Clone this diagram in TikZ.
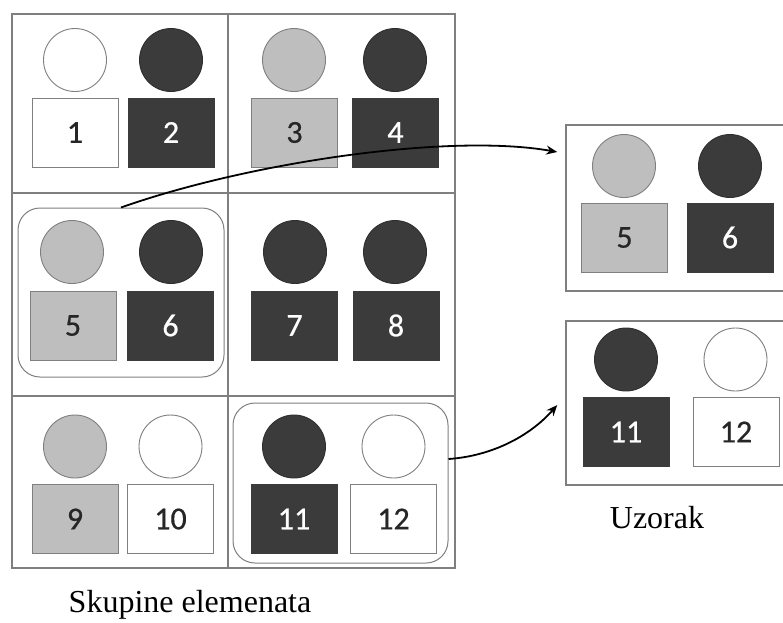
\documentclass[tikz,border=0pt]{standalone}
\usepackage{fontspec}
\setmainfont{Liberation Serif}
\newfontfamily\digitfont{Carlito}[FakeBold=0.6]
\usetikzlibrary{arrows.meta}
\definecolor{dk}{HTML}{3B3B3B}
\definecolor{lt}{HTML}{BEBEBE}
\definecolor{ln}{HTML}{7F7F7F}
\begin{document}
\begin{tikzpicture}[x=1pt,y=-1pt,
  gridline/.style={draw=ln,line width=1.5pt},
  dot/.style={circle,minimum size=63pt,inner sep=0pt,line width=0.9pt},
  wdot/.style={dot,draw=ln,fill=white},
  gdot/.style={dot,draw=ln,fill=lt},
  ddot/.style={dot,draw=dk!80!black,fill=dk},
  card/.style={rectangle,minimum width=86pt,minimum height=69pt,inner sep=0pt,line width=0.9pt,font=\digitfont\fontsize{32}{32}\selectfont},
  wcard/.style={card,draw=ln,fill=white,text=black!85},
  gcard/.style={card,draw=ln,fill=lt,text=black!85},
  dcard/.style={card,draw=dk,fill=dk,text=white},
  group/.style={rectangle,rounded corners=22pt,draw=ln,line width=1pt,inner sep=0pt},
  samplebox/.style={rectangle,draw=ln,line width=1.5pt,inner sep=0pt},
  caption/.style={font=\fontsize{32}{32}\selectfont,anchor=base},
  link/.style={black,line width=1.8pt,-{Stealth[length=11pt,width=9pt]}}]
\useasboundingbox (0,0) rectangle (783,622);
% grid
\draw[gridline] (12,14) rectangle (455,568);
\draw[gridline] (228,14) -- (228,568);
\draw[gridline] (12,193) -- (455,193);
\draw[gridline] (12,396) -- (455,396);
% row 1
\node[wdot] (c1) at (75,60) {};
\node[ddot] (c2) at (171,60) {};
\node[gdot] (c3) at (294,60) {};
\node[ddot] (c4) at (395,60) {};
\node[wcard] (s1) at (75,132.5) {1};
\node[dcard] (s2) at (171,132.5) {2};
\node[gcard] (s3) at (294.5,132.5) {3};
\node[dcard] (s4) at (395.5,132.5) {4};
% row 2
\node[group,minimum width=206pt,minimum height=169pt] (g1) at (121,292.5) {};
\node[gdot] (c5) at (72,252) {};
\node[ddot] (c6) at (171,252) {};
\node[ddot] (c7) at (295,252) {};
\node[ddot] (c8) at (395,252) {};
\node[gcard] (s5) at (73,325.5) {5};
\node[dcard] (s6) at (170.5,325.5) {6};
\node[dcard] (s7) at (294.5,325.5) {7};
\node[dcard] (s8) at (396,325.5) {8};
% row 3
\node[group,minimum width=215pt,minimum height=160pt] (g2) at (340.5,483) {};
\node[gdot] (c9) at (75,446.5) {};
\node[wdot] (c10) at (170.5,446.5) {};
\node[ddot] (c11) at (294,446.5) {};
\node[wdot] (c12) at (393.5,446.5) {};
\node[gcard] (s9) at (75,519) {9};
\node[wcard] (s10) at (170.5,519) {10};
\node[dcard] (s11) at (294,519) {11};
\node[wcard] (s12) at (393.5,519) {12};
% sample boxes
\node[samplebox,minimum width=240pt,minimum height=166pt] (bA) at (686,208) {};
\node[gdot] (a5) at (624,166) {};
\node[ddot] (a6) at (730,166) {};
\node[gcard] (as5) at (624.5,237.5) {5};
\node[dcard] (as6) at (730,237.5) {6};
\node[samplebox,minimum width=240pt,minimum height=164pt] (bB) at (686,403) {};
\node[ddot] (b11) at (626,359.5) {};
\node[wdot] (b12) at (735.5,359.5) {};
\node[dcard] (bs11) at (626,432) {11};
\node[wcard] (bs12) at (736,432) {12};
% captions
\node[caption] (cap1) at (190,612) {Skupine elemenata};
\node[caption] (cap2) at (657,528) {Uzorak};
% arrows
\coordinate (e1) at ([xshift=-8pt,yshift=56pt]bA.west);
\coordinate (e2) at ([xshift=-8pt,yshift=-2pt]bB.west);
\coordinate (st2) at ([yshift=24pt]g2.east);
\draw[link] (g1.north) .. controls (250,162) and (450,133) .. (e1);
\draw[link] (st2) .. controls (492,456) and (530,436) .. (e2);
\end{tikzpicture}
\end{document}
